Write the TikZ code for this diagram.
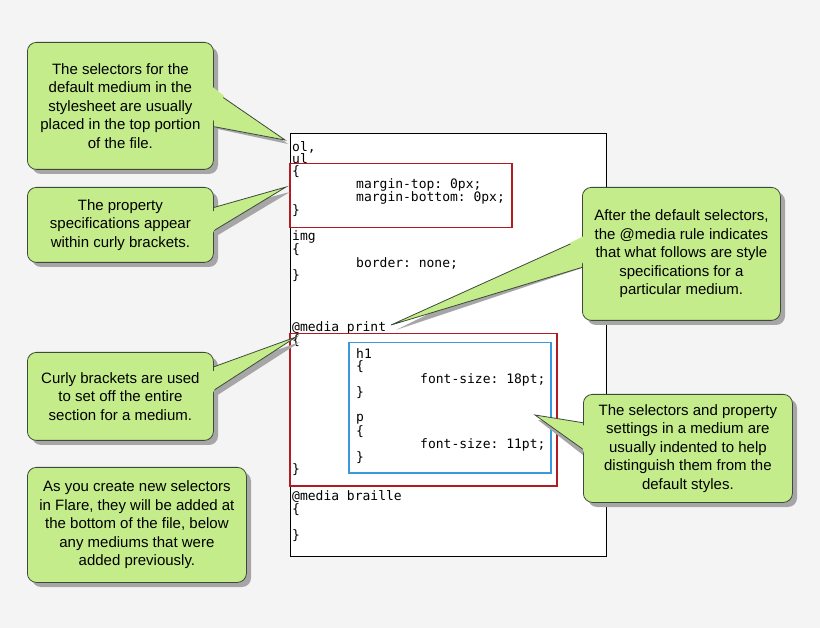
\documentclass[tikz,border=0pt]{standalone}
\usepackage{fontspec}
\setmainfont{Liberation Sans}
\setmonofont{DejaVu Sans Mono}
\definecolor{bg}{HTML}{F4F4F4}
\definecolor{cg}{HTML}{C4EC8A}
\definecolor{cb}{HTML}{3C4A3A}
\definecolor{rb}{HTML}{B01C22}
\definecolor{bb}{HTML}{3A98DC}
\begin{document}
\begin{tikzpicture}[x=1pt,y=-1pt,
  sh/.style={fill=black!35,draw=none},
  tri/.style={fill=cg,draw=cb,line width=0.8pt,line join=miter},
  box/.style={fill=cg,draw=cb,line width=0.8pt,rounded corners=9pt,anchor=north west,inner sep=0pt},
  txt/.style={align=center,font=\fontsize{15}{18.5}\selectfont,inner sep=0pt},
  code/.style={anchor=west,inner sep=0pt,font=\ttfamily\fontsize{13}{13}\selectfont},
  hl/.style={line width=1.5pt,anchor=north west,inner sep=0pt}]
\fill[bg] (0,0) rectangle (820,628);
\useasboundingbox (0,0) rectangle (820,628);
% code panel
\node[draw=black,fill=white,line width=0.7pt,minimum width=316pt,minimum height=423pt,anchor=north west,inner sep=0pt] (panel) at (290,133) {};
\node[code] (l1) at (292,147) {ol,};
\node[code] (l2) at (292,159) {ul};
\node[code] (l3) at (292,172) {\{};
\node[code] (l4) at (356,185) {margin-top: 0px;};
\node[code] (l5) at (356,198) {margin-bottom: 0px;};
\node[code] (l6) at (292,211) {\}};
\node[code] (l7) at (292,237) {img};
\node[code] (l8) at (292,250) {\{};
\node[code] (l9) at (356,263) {border: none;};
\node[code] (l10) at (292,276) {\}};
\node[code] (l11) at (292,328) {@media print};
\node[code] (l12) at (292,341) {\{};
\node[code] (l13) at (356,354) {h1};
\node[code] (l14) at (356,367) {\{};
\node[code] (l15) at (420,380) {font-size: 18pt;};
\node[code] (l16) at (356,393) {\}};
\node[code] (l17) at (356,419) {p};
\node[code] (l18) at (356,432) {\{};
\node[code] (l19) at (420,445) {font-size: 11pt;};
\node[code] (l20) at (356,458) {\}};
\node[code] (l21) at (292,470) {\}};
\node[code] (l22) at (292,497) {@media braille};
\node[code] (l23) at (292,510) {\{};
\node[code] (l24) at (292,536) {\}};
\node[hl,draw=rb,minimum width=222pt,minimum height=64pt] (r1) at (289,163) {};
\node[hl,draw=rb,minimum width=267pt,minimum height=152pt] (r2) at (289,333) {};
\node[hl,draw=bb,minimum width=202pt,minimum height=130pt] (b1) at (348,342) {};
% shadows
\foreach \a/\b/\c/\d in {27/42/213/169, 27/187/213/262, 582/187/780/320, 27/352/213/440, 583/394/792/502, 27/467/246/582}
  \fill[sh,rounded corners=9pt] (\a+5,\b+5) rectangle (\c+5,\d+5);
\fill[sh] (213,90) -- (288,144) -- (213,128) -- cycle;
\fill[sh] (213,212) -- (290,192) -- (213,238) -- cycle;
\fill[sh] (582,238) -- (396,330) -- (582,268) -- cycle;
\fill[sh] (213,372) -- (300,342) -- (213,398) -- cycle;
\fill[sh] (583,425) -- (538,420) -- (583,455) -- cycle;
% pointers
\coordinate (t1) at (285,140);
\coordinate (t2) at (286,187);
\coordinate (t3) at (391,325);
\coordinate (t4) at (296,337);
\coordinate (t5) at (535,415);
\draw[tri] (205,85) -- (t1) -- (205,125) -- cycle;
\draw[tri] (205,210) -- (t2) -- (205,236) -- cycle;
\draw[tri] (590,235) -- (t3) -- (590,265) -- cycle;
\draw[tri] (205,370) -- (t4) -- (205,396) -- cycle;
\draw[tri] (591,424) -- (t5) -- (591,455) -- cycle;
% boxes
\node[box,minimum width=186pt,minimum height=127pt] (c1) at (27,42) {};
\node[box,minimum width=186pt,minimum height=75pt] (c2) at (27,187) {};
\node[box,minimum width=198pt,minimum height=133pt] (c3) at (582,187) {};
\node[box,minimum width=186pt,minimum height=88pt] (c4) at (27,352) {};
\node[box,minimum width=209pt,minimum height=108pt] (c5) at (583,394) {};
\node[box,minimum width=219pt,minimum height=115pt] (c6) at (27,467) {};
% cover pointer bases
\fill[cg] (212.2,86.6) -- (224,96) -- (212.2,123.5) -- cycle;
\fill[cg] (212.2,211.5) -- (224,209) -- (212.2,234.5) -- cycle;
\fill[cg] (582.8,236.5) -- (570,243) -- (582.8,263.5) -- cycle;
\fill[cg] (212.2,371.5) -- (224,368) -- (212.2,394.5) -- cycle;
\fill[cg] (583.8,425.5) -- (578,425) -- (583.8,453.5) -- cycle;
% texts
\node[txt] at (c1) {The selectors for the\\default medium in the\\stylesheet are usually\\placed in the top portion\\of the file.};
\node[txt] at (c2) {The property\\specifications appear\\within curly brackets.};
\node[txt] at (c3) {After the default selectors,\\the @media rule indicates\\that what follows are style\\specifications for a\\particular medium.};
\node[txt] at (c4) {Curly brackets are used\\to set off the entire\\section for a medium.};
\node[txt] at (c5) {The selectors and property\\settings in a medium are\\usually indented to help\\distinguish them from the\\default styles.};
\node[txt] at (c6) {As you create new selectors\\in Flare, they will be added at\\the bottom of the file, below\\any mediums that were\\added previously.};
\end{tikzpicture}
\end{document}
